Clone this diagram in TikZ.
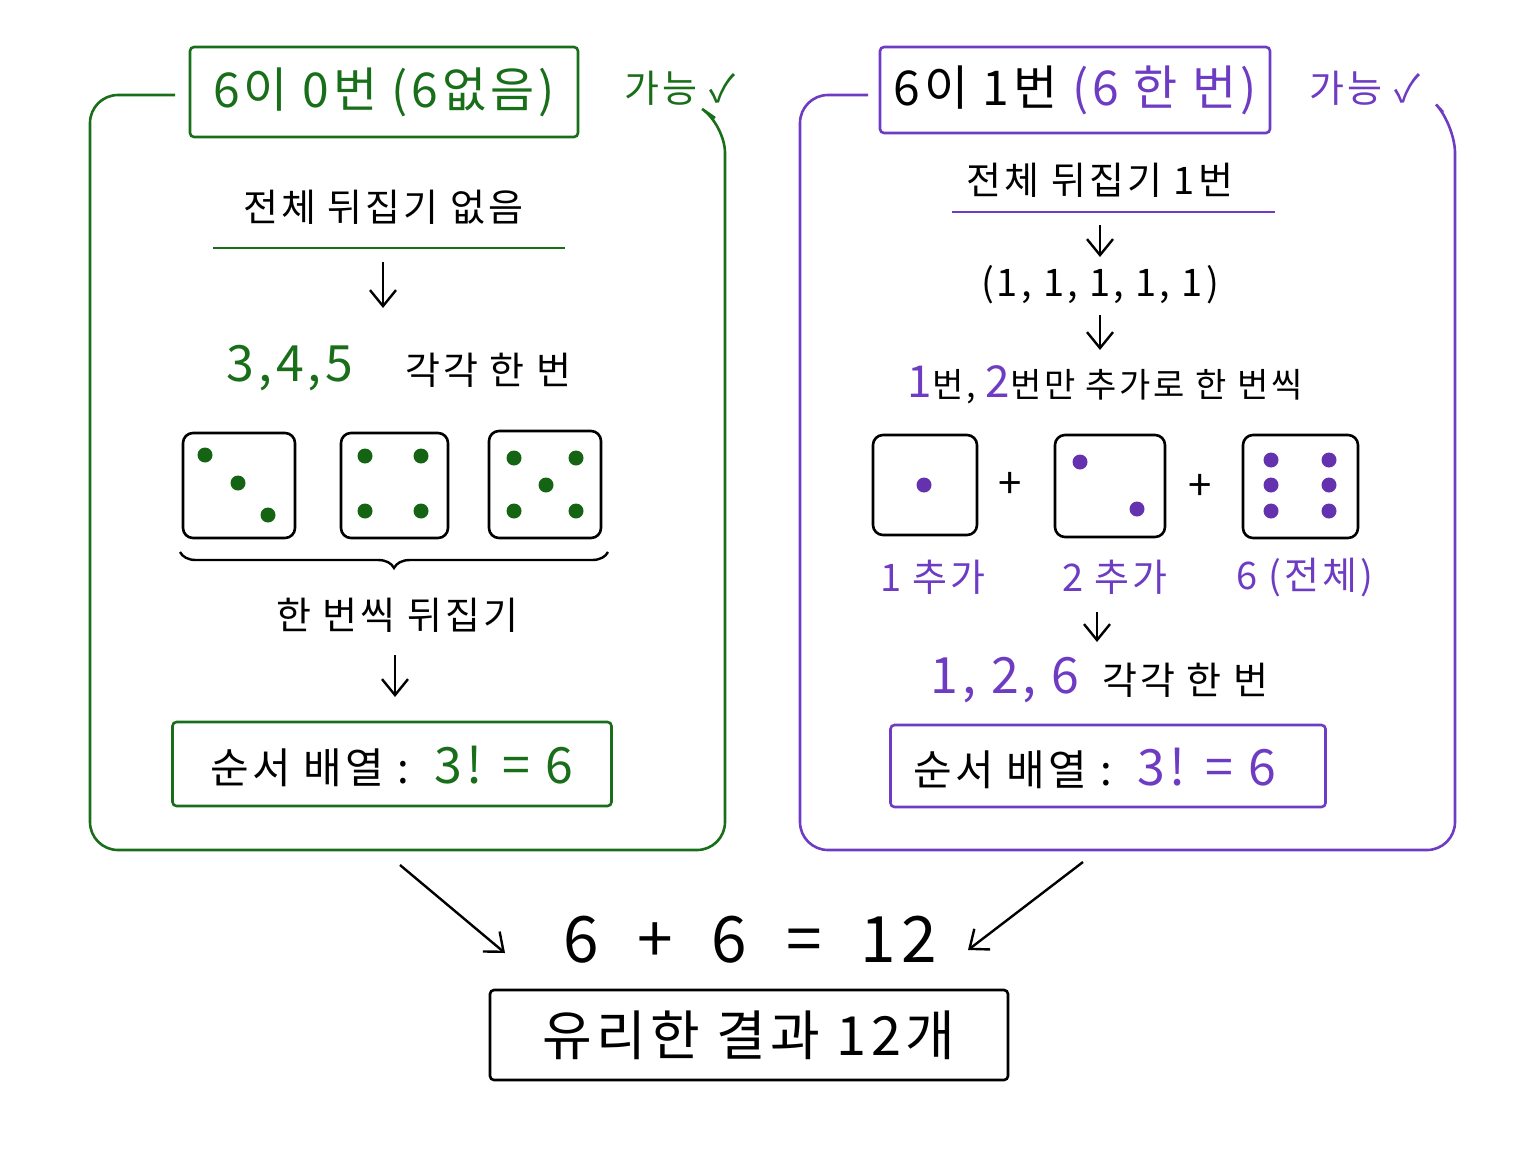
\documentclass[tikz,border=0pt]{standalone}
\usepackage{fontspec}
\setmainfont[LetterSpace=8]{Noto Sans CJK KR}
\usetikzlibrary{decorations.pathreplacing,arrows.meta}
\definecolor{gr}{RGB}{25,110,25}
\definecolor{pu}{RGB}{110,60,195}
\definecolor{gp}{RGB}{20,100,20}
\definecolor{pp}{RGB}{100,50,175}
\newcommand{\fs}[1]{\fontsize{#1}{#1}\selectfont}
\begin{document}
\begin{tikzpicture}[x=1pt,y=-1pt,
  frame/.style={line width=2.6pt,rounded corners=28pt},
  tbox/.style={draw,line width=2.6pt,rounded corners=4pt},
  die/.style={draw=black,line width=2.6pt,rounded corners=10pt},
  arr/.style={-{Straight Barb[length=16pt,width=26pt,line width=2.4pt]},line width=2.4pt},
  t/.style={font=\fs{38}},
  g/.style={circle,inner sep=0,minimum size=15pt,fill=gp},
  p/.style={circle,inner sep=0,minimum size=15pt,fill=pp}]
\useasboundingbox (0,0) rectangle (1536,1152);
% left frame
\draw[frame,gr] (175,95) -- (90,95) -- (90,850) -- (725,850) -- (725,125) -- (715,118);
\node[tbox,gr,minimum width=388pt,minimum height=90pt] (lt) at (384,92) {};
\node[gr,font=\fs{48}] (ltt) at (384,92) {6이 0번 (6없음)};
\node[gr,font=\fs{38}] (lok) at (680,88) {가능 ✓};
\node[t] (l1) at (383,207) {전체 뒤집기 없음};
\draw[gr,line width=2.6pt] (213,248) -- (565,248);
\coordinate (la1) at (383,262); \coordinate (la2) at (383,308);
\draw[arr] (la1) -- (la2);
\node[gr,font=\fs{50}] (l345) at (290,368) {3,4,5};
\node[t] (leach) at (488,370) {각각 한 번};
\draw[die] (183,433) rectangle (295,538);
\node[g] at (205,455) {}; \node[g] at (238,483) {}; \node[g] at (268,515) {};
\draw[die] (341,433) rectangle (448,538);
\node[g] at (365,456) {}; \node[g] at (421,456) {}; \node[g] at (365,511) {}; \node[g] at (421,511) {};
\draw[die] (489,431) rectangle (601,538);
\node[g] at (514,458) {}; \node[g] at (576,458) {}; \node[g] at (546,485) {}; \node[g] at (514,511) {}; \node[g] at (576,511) {};
\draw[decorate,decoration={brace,amplitude=16pt,mirror},line width=2.4pt] (180,552) -- (608,552);
\node[t] (l2) at (397,615) {한 번씩 뒤집기};
\coordinate (lb1) at (395,655); \coordinate (lb2) at (395,697);
\draw[arr] (lb1) -- (lb2);
\node[tbox,gr,minimum width=439pt,minimum height=84pt] (lbox) at (392,764) {};
\node[font=\fs{42}] (lbt) at (392,766) {순서 배열 :\ \ \textcolor{gr}{\fs{50}3! = 6}};
% right frame
\draw[frame,pu] (868,95) -- (800,95) -- (800,850) -- (1455,850) -- (1455,125) -- (1443,112);
\node[tbox,pu,minimum width=390pt,minimum height=86pt] (rt) at (1075,90) {};
\node[font=\fs{48}] (rtt) at (1075,90) {6이 1번 \textcolor{pu}{(6 한 번)}};
\node[pu,font=\fs{38}] (rok) at (1365,88) {가능 ✓};
\node[t] (r1) at (1100,180) {전체 뒤집기 1번};
\draw[pu,line width=2.6pt] (952,212) -- (1275,212);
\coordinate (ra1) at (1100,225); \coordinate (ra2) at (1100,257);
\draw[arr] (ra1) -- (ra2);
\node[t] (r11) at (1100,285) {(1, 1, 1, 1, 1)};
\coordinate (rb1) at (1100,315); \coordinate (rb2) at (1100,350);
\draw[arr] (rb1) -- (rb2);
\node[font=\fs{34}] (r2) at (1105,385) {\textcolor{pu}{\fs{44}1}번, \textcolor{pu}{\fs{44}2}번만 추가로 한 번씩};
\draw[die] (873,435) rectangle (977,535);
\node[p] at (924,485) {};
\node[font=\fs{42}] (pl1) at (1010,485) {+};
\draw[die] (1055,435) rectangle (1165,537);
\node[p] at (1080,462) {}; \node[p] at (1137,509) {};
\node[font=\fs{42}] (pl2) at (1200,487) {+};
\draw[die] (1243,435) rectangle (1358,538);
\foreach \yy in {460,485,511}{\node[p] at (1271,\yy) {}; \node[p] at (1329,\yy) {};}
\node[pu,font=\fs{38}] (c1) at (933,577) {1 추가};
\node[pu,font=\fs{38}] (c2) at (1115,577) {2 추가};
\node[pu,font=\fs{38}] (c3) at (1305,577) {6 (전체)};
\coordinate (rc1) at (1097,612); \coordinate (rc2) at (1097,642);
\draw[arr] (rc1) -- (rc2);
\node[pu,font=\fs{50}] (r126) at (1005,680) {1, 2, 6};
\node[t] (reach) at (1185,680) {각각 한 번};
\node[tbox,pu,minimum width=435pt,minimum height=82pt] (rbox) at (1108,766) {};
\node[font=\fs{42}] (rbt) at (1095,768) {순서 배열 :\ \ \textcolor{pu}{\fs{50}3! = 6}};
% bottom
\coordinate (s1) at (400,865); \coordinate (s2) at (505,953);
\coordinate (s3) at (1083,862); \coordinate (s4) at (968,950);
\draw[arr] (s1) -- (s2);
\draw[arr] (s3) -- (s4);
\node[font=\fs{64}] (sum) at (750,940) {6\ \ +\ \ 6\ \ =\ \ 12};
\node[tbox,draw=black,minimum width=518pt,minimum height=90pt] (res) at (749,1035) {};
\node[font=\fs{54}] (rest) at (749,1035) {유리한 결과 12개};
\end{tikzpicture}
\end{document}
